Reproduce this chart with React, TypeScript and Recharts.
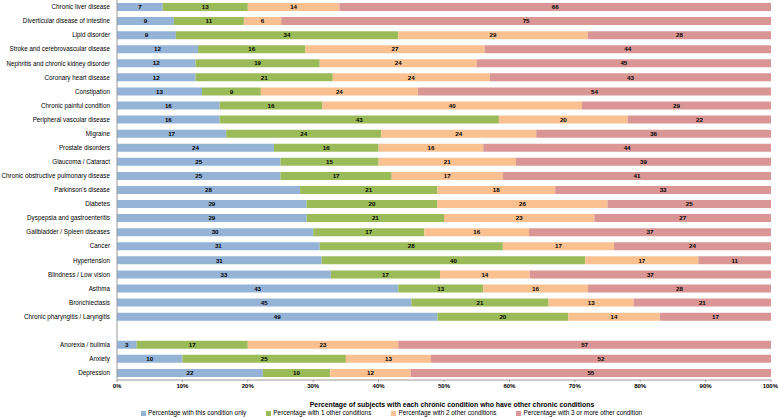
import React from "react";
import { Bar, BarChart, LabelList, Legend, XAxis, YAxis } from "recharts";

const conditions = [
  "Chronic liver disease",
  "Diverticular disease of intestine",
  "Lipid disorder",
  "Stroke and cerebrovascular disease",
  "Nephritis and chronic kidney disorder",
  "Coronary heart disease",
  "Constipation",
  "Chronic painful condition",
  "Peripheral vascular disease",
  "Migraine",
  "Prostate disorders",
  "Glaucoma / Cataract",
  "Chronic obstructive pulmonary disease",
  "Parkinson's disease",
  "Diabetes",
  "Dyspepsia and gastroenteritis",
  "Gallbladder / Spleen diseases",
  "Cancer",
  "Hypertension",
  "Blindness / Low vision",
  "Asthma",
  "Bronchiectasis",
  "Chronic pharyngitis / Laryngitis",
  "",
  "Anorexia / bulimia",
  "Anxiety",
  "Depression",
];

// estimated unrounded shares (labels show them rounded)
const onlyThis = [7, 8.7, 9, 12.4, 12, 12, 13, 15.7, 15.7, 16.7, 24, 25, 25, 28, 29, 29, 30, 31, 31.3, 32.7, 43, 45, 49, null, 3, 10, 22.3];
const oneOther = [13, 10.7, 34, 16.4, 19, 21, 9, 15.7, 42.7, 23.7, 16, 15, 17, 21, 20, 21, 17, 28, 40.3, 16.7, 13, 21, 20, null, 17, 25, 10.3];
const twoOther = [14, 5.7, 29, 27.4, 24, 24, 24, 39.7, 19.7, 23.7, 16, 21, 17, 18, 26, 23, 16, 17, 17.3, 13.7, 16, 13, 14, null, 23, 13, 12.3];
const threeOrMore = [66, 74.9, 28, 43.8, 45, 43, 54, 28.9, 21.9, 35.9, 44, 39, 41, 33, 25, 27, 37, 24, 11.1, 36.9, 28, 21, 17, null, 57, 52, 55.1];

const xTicks = [0, 10, 20, 30, 40, 50, 60, 70, 80, 90, 100];

const seriesNames = [
  "Percentage with this condition only",
  "Percentage with 1 other conditions",
  "Percentage with 2 other conditions",
  "Percentage with 3 or more other condition",
];
const colors = ["#95B3D7", "#9BBB59", "#FAC090", "#D99694"];

const data = conditions.map((name, i) => ({
  name,
  a: onlyThis[i],
  b: oneOther[i],
  c: twoOther[i],
  d: threeOrMore[i],
}));

const font = "'Liberation Sans', Arial, sans-serif";
const title = "Percentage of subjects with each chronic condition who have other chronic conditions";

function YTick({ x, y, payload }: any) {
  return (
    <text x={x} y={y} dy={2.2} textAnchor="end" fontSize={6.3} fill="#000" fontFamily={font}>
      {payload.value}
    </text>
  );
}

function LegendRow() {
  return (
    <div
      style={{
        display: "flex",
        justifyContent: "center",
        gap: 20,
        fontFamily: font,
        fontSize: 6.4,
        color: "#000",
        lineHeight: "10px",
        paddingLeft: 12,
      }}
    >
      {seriesNames.map((n, i) => (
        <span key={n} style={{ display: "flex", alignItems: "center" }}>
          <span style={{ width: 5, height: 5, background: colors[i], marginRight: 2, display: "inline-block" }} />
          {n}
        </span>
      ))}
    </div>
  );
}

export default function App() {
  const keys = ["a", "b", "c", "d"];
  return (
    <div style={{ width: 778, height: 418, background: "#fff" }}>
      <style>{`body{margin:0}`}</style>
      <BarChart
        width={778}
        height={418}
        data={data}
        layout="vertical"
        margin={{ top: 0, right: 7, bottom: 0, left: 0 }}
        barSize={8}
      >
        <XAxis
          type="number"
          domain={[0, 100]}
          ticks={xTicks}
          tickFormatter={(v) => `${v}%`}
          axisLine={{ stroke: "#999" }}
          tickLine={{ stroke: "#999" }}
          tickSize={2}
          tickMargin={2}
          height={28}
          tick={{ fontSize: 6, fill: "#000", fontFamily: font, fontWeight: "bold" }}
          label={{
            content: ({ viewBox }: any) => (
              <text
                x={viewBox.x + viewBox.width / 2 + 8}
                y={viewBox.y + 27}
                textAnchor="middle"
                fontSize={6.9}
                fontWeight="bold"
                fill="#000"
                fontFamily={font}
              >
                {title}
              </text>
            ),
          }}
        />
        <YAxis
          type="category"
          dataKey="name"
          width={117}
          axisLine={{ stroke: "#999" }}
          tickLine={false}
          tickSize={5}
          tickMargin={2}
          interval={0}
          tick={<YTick />}
        />
        <Legend verticalAlign="bottom" height={10} content={() => <LegendRow />} />
        {keys.map((k, i) => (
          <Bar key={k} dataKey={k} stackId="s" fill={colors[i]} name={seriesNames[i]} isAnimationActive={false}>
            <LabelList
              dataKey={k}
              position="center"
              formatter={(v: any) => (v == null ? "" : Math.round(v))}
              style={{ fontSize: 6.2, fontWeight: "bold", fill: "#000", fontFamily: font }}
            />
          </Bar>
        ))}
      </BarChart>
    </div>
  );
}
